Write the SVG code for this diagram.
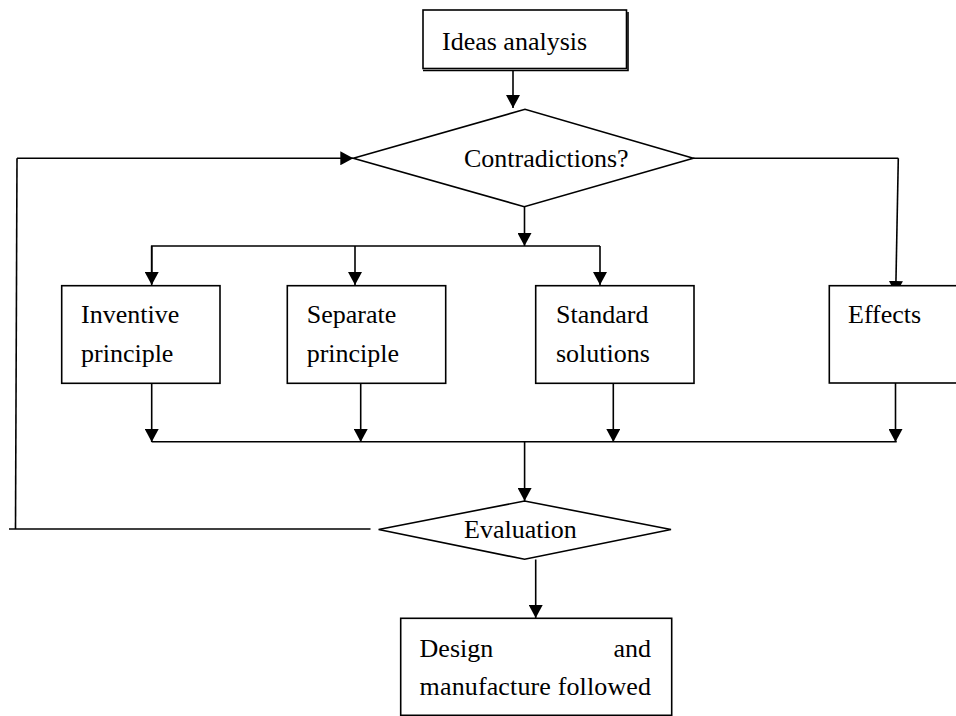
<svg xmlns="http://www.w3.org/2000/svg" width="956" height="716" viewBox="0 0 956 716">
<style>
.box{fill:#fff;stroke:#000;stroke-width:1.6}
.ln{fill:none;stroke:#000;stroke-width:1.6}
.t{font-family:"Liberation Serif","Times New Roman",serif;font-size:26px;fill:#000}
</style>
<defs>
<marker id="ah" markerWidth="14" markerHeight="14" refX="13" refY="7" orient="auto" markerUnits="userSpaceOnUse">
<path d="M0,0 L13,7 L0,14 Z" fill="#000"/>
</marker>
</defs>
<rect width="956" height="716" fill="#fff"/>
<g id="connectors">
<line class="ln" x1="513" y1="70" x2="513" y2="108" marker-end="url(#ah)"/>
<line class="ln" x1="524.5" y1="207" x2="524.5" y2="246" marker-end="url(#ah)"/>
<polyline class="ln" points="151.7,284 151.7,246 600,246"/>
<line class="ln" x1="151.7" y1="246" x2="151.7" y2="285" marker-end="url(#ah)"/>
<line class="ln" x1="355" y1="246" x2="355" y2="285" marker-end="url(#ah)"/>
<line class="ln" x1="600" y1="246" x2="600" y2="285" marker-end="url(#ah)"/>
<polyline class="ln" points="693,158.3 898.3,158.3"/>
<line class="ln" x1="898.3" y1="158.3" x2="895.7" y2="294" marker-end="url(#ah)"/>
<line class="ln" x1="151.7" y1="383" x2="151.7" y2="442" marker-end="url(#ah)"/>
<line class="ln" x1="360.7" y1="383" x2="360.7" y2="442" marker-end="url(#ah)"/>
<line class="ln" x1="613.3" y1="383" x2="613.3" y2="442" marker-end="url(#ah)"/>
<line class="ln" x1="895.5" y1="383" x2="895.5" y2="442" marker-end="url(#ah)"/>
<line class="ln" x1="151.7" y1="441.7" x2="896.7" y2="441.7"/>
<line class="ln" x1="524.6" y1="441.7" x2="524.6" y2="501" marker-end="url(#ah)"/>
<line class="ln" x1="535.7" y1="559.5" x2="535.7" y2="618" marker-end="url(#ah)"/>
<line class="ln" x1="370.5" y1="529" x2="9" y2="529"/>
<line class="ln" x1="15.5" y1="529" x2="17" y2="158.3"/>
<line class="ln" x1="17" y1="158.3" x2="353.3" y2="158.3" marker-end="url(#ah)"/>
</g>
<g id="ideas">
<rect class="box" x="423" y="10" width="203.5" height="58.5"/>
<polyline class="ln" points="423,70.5 628,70.5 628,12"/>
<text class="t" x="442" y="50">Ideas analysis</text>
</g>
<g id="contradictions">
<polygon class="box" points="353.3,158.3 525,109.3 693.3,158.3 524.3,206.7"/>
<text class="t" x="464" y="167">Contradictions?</text>
</g>
<g id="inventive">
<rect class="box" x="61.7" y="285.7" width="158.3" height="97.6"/>
<text class="t" x="81" y="323.3">Inventive</text>
<text class="t" x="81" y="361.7">principle</text>
</g>
<g id="separate">
<rect class="box" x="287.3" y="285.7" width="158.4" height="97.6"/>
<text class="t" x="306.7" y="323.3">Separate</text>
<text class="t" x="306.7" y="361.7">principle</text>
</g>
<g id="standard">
<rect class="box" x="535.7" y="285.7" width="158.3" height="97.6"/>
<text class="t" x="556" y="323.3">Standard</text>
<text class="t" x="556" y="361.7">solutions</text>
</g>
<g id="effects">
<rect class="box" x="829.3" y="285.7" width="140" height="97.3"/>
<text class="t" x="848" y="323.3">Effects</text>
</g>
<g id="evaluation">
<polygon class="box" points="378.6,529.5 524.6,501 671,529.5 524.6,559.3"/>
<text class="t" x="464" y="538">Evaluation</text>
</g>
<g id="design">
<rect class="box" x="400.7" y="618.3" width="271" height="97"/>
<text class="t" x="419.6" y="656.7">Design</text>
<text class="t" x="651" y="656.7" text-anchor="end">and</text>
<text class="t" x="419.6" y="695" textLength="231.4" lengthAdjust="spacing">manufacture followed</text>
</g>
</svg>
